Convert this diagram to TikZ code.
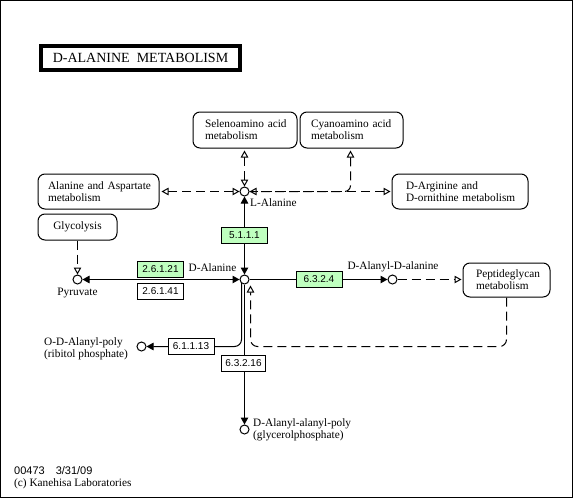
\documentclass[tikz,border=0pt]{standalone}
\usepackage{fontspec}
\setmainfont{Liberation Serif}
\newfontfamily\ecfont{Liberation Sans}
\usetikzlibrary{arrows.meta,backgrounds,calc}
\definecolor{ecgreen}{HTML}{BFFFBF}
\tikzset{
  otri/.tip={Triangle[open,length=7pt,width=7.5pt,fill=white]},
  ftri/.tip={Triangle[length=7pt,width=7.5pt]},
}
\begin{document}
\begin{tikzpicture}[x=1pt,y=-1pt,
  lbl/.style={font=\fontsize{11.3}{12}\selectfont, inner sep=0pt},
  mapbox/.style={draw, rounded corners=7pt, line width=1pt, font=\fontsize{11.3}{12}\selectfont, align=left, inner ysep=0pt, fill=white},
  cpd/.style={draw, circle, minimum size=9pt, inner sep=0pt, line width=1pt, fill=white},
  ec/.style={draw, line width=1pt, font=\ecfont\fontsize{10}{11}\selectfont, minimum width=46pt, minimum height=16pt, inner sep=0pt, fill=white},
  ecg/.style={ec, fill=ecgreen},
  rel/.style={line width=1pt},
  dsh/.style={line width=1pt, dash pattern=on 9pt off 5pt},
]
\useasboundingbox (0,0) rectangle (573,498);
\draw[line width=1pt] (0.5,0.5) rectangle (572.5,497.5);

% title
\node[draw, line width=3.2pt, minimum width=199pt, minimum height=24pt, inner sep=0pt,
      font=\fontsize{14}{16}\selectfont] (title) at (140.5,58) {D-ALANINE\ \ METABOLISM};

% map boxes
\node[mapbox, inner xsep=12pt, text width=80pt, minimum height=36pt] (seleno) at (245,130) {\mbox{Selenoamino acid}\\\mbox{metabolism}};
\node[mapbox, inner xsep=11pt, text width=81pt, minimum height=36pt] (cyano) at (351.5,130) {\mbox{Cyanoamino acid}\\\mbox{metabolism}};
\node[mapbox, inner xsep=10pt, text width=101pt, minimum height=35pt] (alaasp) at (98.5,191.5) {\mbox{Alanine and Aspartate}\\\mbox{metabolism}};
\node[mapbox, align=center, minimum width=79pt, minimum height=26pt] (glyc) at (77.5,227) {Glycolysis};
\node[mapbox, inner xsep=14pt, text width=108pt, minimum height=35pt] (darg) at (460,191.5) {\mbox{D-Arginine and}\\\mbox{D-ornithine metabolism}};
\node[mapbox, inner xsep=13pt, text width=61pt, minimum height=34pt] (pep) at (506.5,280) {\mbox{Peptideglycan}\\\mbox{metabolism}};

% compounds
\node[cpd] (lala) at (244.5,191.5) {};
\node[cpd] (dala) at (244.5,279.5) {};
\node[cpd] (pyr) at (77.5,279.5) {};
\node[cpd] (dadala) at (392.5,279.5) {};
\node[cpd] (odala) at (141.5,346.5) {};
\node[cpd] (daala) at (244.5,429.5) {};

% compound labels
\node[lbl, anchor=west] (tlala) at (250,203) {L-Alanine};
\node[lbl, anchor=east] (tdala) at (236.5,268) {D-Alanine};
\node[lbl] (tpyr) at (77.5,293) {Pyruvate};
\node[lbl] (tdadala) at (393,267) {D-Alanyl-D-alanine};
\node[lbl, anchor=west, align=left] (todala) at (44,349) {O-D-Alanyl-poly\\(ribitol phosphate)};
\node[lbl, anchor=west, align=left] (tdaala) at (253,430) {D-Alanyl-alanyl-poly\\(glycerolphosphate)};

% enzymes
\node[ecg] (e5111) at (244.5,235) {5.1.1.1};
\node[ecg] (e26121) at (160.5,269) {2.6.1.21};
\node[ec] (e26141) at (160.5,291) {2.6.1.41};
\node[ecg] (e6324) at (319,279.5) {6.3.2.4};
\node[ec] (e61113) at (191,346.5) {6.1.1.13};
\node[ec, minimum width=44pt] (e63216) at (243.5,363.5) {6.3.2.16};

\coordinate (ret) at ($(dala.center)+(6,6)$);
\coordinate (dl) at ($(dala.center)+(-3,3.35)$);

% footer
\node[anchor=west, inner sep=0pt, font=\ecfont\fontsize{11}{12}\selectfont] (fid) at (14,471) {00473\hspace{11pt}3/31/09};
\node[lbl, anchor=west] (fcopy) at (14,484) {(c) Kanehisa Laboratories};

\begin{scope}[on background layer]
  % solid reactions
  \draw[rel, ftri-ftri] (pyr) -- (dala);
  \draw[rel, ftri-ftri] (lala) -- (dala);
  \draw[rel, -ftri] (dala) -- (dadala);
  \draw[rel, -ftri, rounded corners=7pt] (dl) |- (odala);
  \draw[rel, -ftri] (dala) -- (daala);
  % dashed map links
  \draw[dsh, otri-otri, shorten <=2pt] (seleno.south -| lala) -- (lala);
  \draw[dsh, otri-otri, shorten <=2pt] (alaasp) -- (lala);
  \draw[dsh, otri-otri, shorten <=1pt] (darg) -- (lala);
  \draw[dsh, otri-, shorten <=2pt, rounded corners=6pt] (cyano.south -| 350.5,0) |- (lala);
  \draw[dsh, -otri] (glyc) -- (pyr);
  \draw[dsh, -otri, shorten >=1pt] (dadala) -- (dadala -| pep.west);
  \draw[dsh, -otri, rounded corners=7pt] (pep.south) |- (ret |- odala) -- (ret);
\end{scope}
\end{tikzpicture}
\end{document}
